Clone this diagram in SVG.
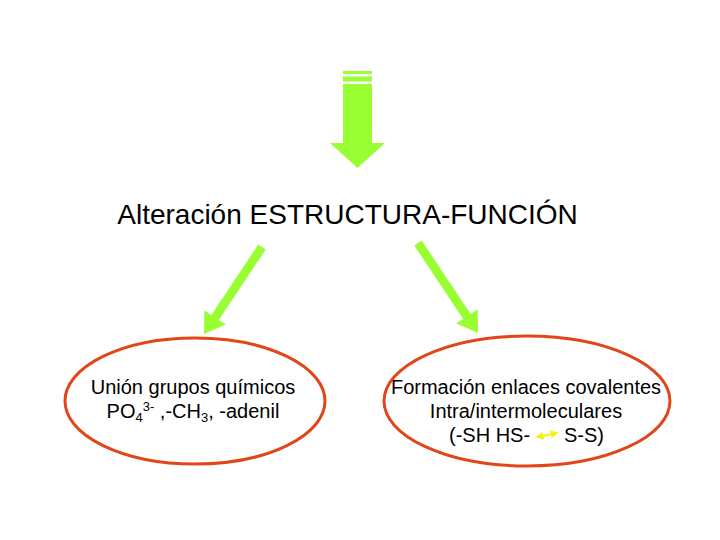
<svg xmlns="http://www.w3.org/2000/svg" width="720" height="540" viewBox="0 0 720 540">
<defs>
<style>
.g{fill:#99ff33;}
.ell{fill:none;stroke:#e0461a;stroke-width:3;}
.t{font-family:"Liberation Sans",Arial,sans-serif;fill:#000;}
.tt{font-size:28px;}
.tn{font-size:20px;text-anchor:middle;}
.sm{font-size:13px;}
</style>
<marker id="ya" viewBox="0 0 10 10" refX="8" refY="5" markerWidth="4" markerHeight="4" orient="auto-start-reverse">
<path d="M0,0 L10,5 L0,10 z" fill="#f2f21a"/>
</marker>
</defs>
<rect width="720" height="540" fill="#fff"/>
<g id="connectors">
<g id="top-arrow">
<rect class="g" x="343" y="71" width="29" height="3"/>
<rect class="g" x="343" y="76.5" width="29" height="5"/>
<rect class="g" x="343" y="84" width="29" height="60"/>
<polygon class="g" points="330,143 385,143 357.5,168"/>
</g>
<polygon id="arrow-left" class="g" points="258.3,244.5 265.7,249.5 218.8,319.9 225.9,324.6 204,334 204.3,310.2 211.4,314.9"/>
<polygon id="arrow-right" class="g" points="421.7,240.5 414.3,245.5 463.2,318.9 456.1,323.6 478,333 477.7,309.2 470.6,313.9"/>
</g>
<g id="title">
<text class="t tt" x="347.5" y="224" text-anchor="middle">Alteración ESTRUCTURA-FUNCIÓN</text>
</g>
<g id="node-left">
<ellipse class="ell" cx="195" cy="401" rx="130" ry="63"/>
<text class="t tn" x="193" y="394">Unión grupos químicos</text>
<text class="t tn" x="193" y="418">PO<tspan class="sm" dy="4">4</tspan><tspan class="sm" dy="-11">3-</tspan><tspan dy="7"> ,-CH</tspan><tspan class="sm" dy="4">3</tspan><tspan dy="-4">, -adenil</tspan></text>
</g>
<g id="node-right">
<ellipse class="ell" cx="527" cy="401" rx="143" ry="65"/>
<text class="t tn" x="526" y="394">Formación enlaces covalentes</text>
<text class="t tn" x="526" y="418">Intra/intermoleculares</text>
<text class="t" font-size="20" x="449" y="442">(-SH HS-</text>
<line x1="537" y1="437" x2="557" y2="433" stroke="#f2f21a" stroke-width="2" marker-start="url(#ya)" marker-end="url(#ya)"/>
<text class="t" font-size="20" x="564" y="442">S-S)</text>
</g>
</svg>
